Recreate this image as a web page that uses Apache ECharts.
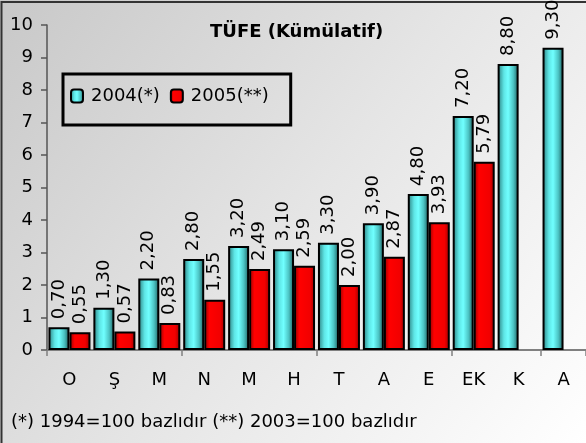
<!DOCTYPE html>
<html>
<head>
<meta charset="utf-8">
<script src="https://cdn.jsdelivr.net/npm/echarts@6/dist/echarts.min.js"></script>
<style>
  html, body { margin: 0; padding: 0; background: #fff; }
  #chart {
    width: 586px;
    height: 443px;
  }
</style>
</head>
<body>
<div id="chart"></div>
<script>
const months = ["O", "Ş", "M", "N", "M", "H", "T", "A", "E", "EK", "K", "A"];
const tufe2004 = [0.70, 1.30, 2.20, 2.80, 3.20, 3.10, 3.30, 3.90, 4.80, 7.20, 8.80, 9.30];
const tufe2005 = [0.55, 0.57, 0.83, 1.55, 2.49, 2.59, 2.00, 2.87, 3.93, 5.79, null, null];
const yTicks = [0, 1, 2, 3, 4, 5, 6, 7, 8, 9, 10];

const FONT = "DejaVu Sans";

const cyanFill = new echarts.graphic.LinearGradient(0, 0, 1, 0, [
  { offset: 0, color: "#2a7c7c" },
  { offset: 0.3, color: "#5ee6e6" },
  { offset: 0.5, color: "#70ffff" },
  { offset: 0.75, color: "#4cc4c4" },
  { offset: 1, color: "#1c5a5a" },
]);
const redFill = new echarts.graphic.LinearGradient(0, 0, 1, 0, [
  { offset: 0, color: "#8a0000" },
  { offset: 0.25, color: "#ff0000" },
  { offset: 0.75, color: "#f20000" },
  { offset: 1, color: "#9a0000" },
]);
const pageFill = new echarts.graphic.LinearGradient(0, 0, 1, 1, [
  { offset: 0, color: "#c8c8c8" },
  { offset: 0.5, color: "#e5e5e5" },
  { offset: 1, color: "#ffffff" },
]);

const fmt = (p) => p.value == null ? "" : p.value.toFixed(2).replace(".", ",");

const label = {
  show: true,
  position: "top",
  rotate: 90,
  align: "left",
  verticalAlign: "middle",
  distance: 8,
  color: "#000",
  fontFamily: FONT,
  fontSize: 18,
  formatter: fmt,
};

const chart = echarts.init(document.getElementById("chart"), null, { renderer: "canvas" });

chart.setOption({
  animation: false,
  backgroundColor: pageFill,
  graphic: [
    {
      // outer frame, only top and left edges show in the source
      type: "polyline",
      shape: { points: [[1.5, 443], [1.5, 2], [586, 2]] },
      style: { stroke: "#333", lineWidth: 2, fill: null },
      silent: true,
    },
  ],
  title: [
    {
      text: "TÜFE (Kümülatif)",
      left: 210,
      top: 23,
      padding: 0,
      textStyle: { fontFamily: FONT, fontSize: 18, fontWeight: "bold", color: "#000" },
    },
    {
      text: "(*) 1994=100 bazlıdır (**) 2003=100 bazlıdır",
      left: 11,
      top: 413,
      padding: 0,
      textStyle: { fontFamily: FONT, fontSize: 18, fontWeight: "normal", color: "#000" },
    },
  ],
  legend: {
    left: 63,
    top: 74,
    orient: "horizontal",
    borderColor: "#000",
    borderWidth: 3,
    padding: [13, 22, 20, 7],
    itemWidth: 12,
    itemHeight: 13,
    itemGap: 10,
    textStyle: { fontFamily: FONT, fontSize: 18, color: "#000", padding: [0, 0, 0, 3] },
    data: ["2004(*)", "2005(**)"],
  },
  grid: {
    left: 47,
    top: 25,
    width: 543,
    height: 325,
    containLabel: false,
  },
  xAxis: {
    type: "category",
    data: months,
    axisLine: { lineStyle: { color: "#808080", width: 2 } },
    axisTick: { show: true, interval: 2, length: 6, lineStyle: { color: "#808080", width: 1.5 } },
    axisLabel: { interval: 0, margin: 21, color: "#000", fontFamily: FONT, fontSize: 18 },
  },
  yAxis: {
    type: "value",
    min: yTicks[0],
    max: yTicks[yTicks.length - 1],
    interval: 1,
    axisLine: { show: true, lineStyle: { color: "#555", width: 1.5 } },
    axisTick: { show: true, length: 6, lineStyle: { color: "#555", width: 1.5 } },
    axisLabel: { margin: 14, color: "#000", fontFamily: FONT, fontSize: 18 },
    splitLine: { show: false },
  },
  series: [
    {
      name: "2004(*)",
      type: "bar",
      data: tufe2004,
      barWidth: 21,
      barGap: "0%",
      itemStyle: { color: cyanFill, borderColor: "#000", borderWidth: 2 },
      label: label,
    },
    {
      name: "2005(**)",
      type: "bar",
      data: tufe2005,
      barWidth: 21,
      barGap: "0%",
      itemStyle: { color: redFill, borderColor: "#000", borderWidth: 2 },
      label: label,
    },
  ],
});
</script>
</body>
</html>
